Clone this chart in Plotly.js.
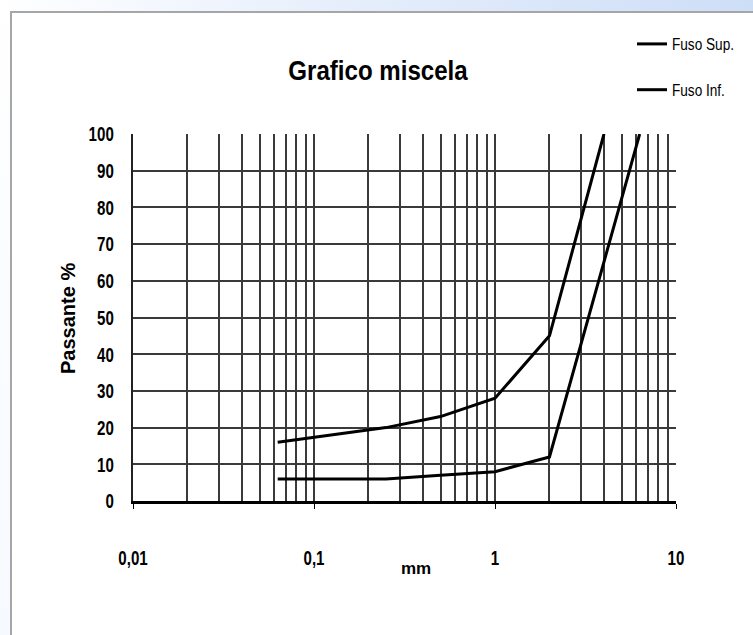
<!DOCTYPE html>
<html>
<head>
<meta charset="utf-8">
<script src="https://cdn.plot.ly/plotly-3.0.1.min.js"></script>
<style>
  html, body { margin:0; padding:0; width:753px; height:635px; overflow:hidden; }
  body { background: linear-gradient(100deg, #ffffff 0%, #e6eefc 40%, #c6daf6 100%); position:relative; }
  #frame { position:absolute; left:10px; top:11px; width:760px; height:640px; background:#ffffff;
           border-left:2px solid #a6a6a6; border-top:2px solid #a6a6a6; box-sizing:border-box; }
  #chart { position:absolute; left:0; top:0; width:753px; height:635px; }
</style>
</head>
<body>
<div id="frame"></div>
<div id="chart"></div>
<script>
// Data
const sieveSup = [0.063, 0.125, 0.25, 0.5, 1, 2, 4];
const passSup  = [16, 18, 20, 23, 28, 45, 100];
const sieveInf = [0.063, 0.125, 0.25, 0.5, 1, 2, 4, 6.3];
const passInf  = [6, 6, 6, 7, 8, 12, 65, 100];
const xTickVals = [0.01, 0.1, 1, 10];
const xTickText = ["0,01", "0,1", "1", "10"];

const minorVals = [];
[0.01, 0.1, 1].forEach(d => { for (let k = 2; k <= 9; k++) minorVals.push(+(d * k).toPrecision(3)); });

const sans = "Liberation Sans, Arial, sans-serif";
const gridC = "#3a3a3a";

const traces = [
  { x: sieveSup, y: passSup, name: "Fuso Sup.", type: "scatter", mode: "lines",
    line: { color: "#000000", width: 3 }, legendgroup: "a" },
  { x: sieveInf, y: passInf, name: "Fuso Inf.", type: "scatter", mode: "lines",
    line: { color: "#000000", width: 3 }, legendgroup: "b" }
];

const layout = {
  width: 753, height: 635,
  paper_bgcolor: "rgba(0,0,0,0)",
  plot_bgcolor: "#ffffff",
  margin: { l: 133, r: 77, t: 134, b: 134, autoexpand: false },
  title: { text: "<b>Grafico miscela</b>", font: { family: sans, size: 28, color: "#000" },
           x: 378 / 753, xanchor: "center", xref: "container", y: 1 - 70 / 635, yanchor: "middle", yref: "container" },
  showlegend: true,
  legend: { xref: "container", yref: "container", x: 632 / 753, y: 1 - 27 / 635, xanchor: "left", yanchor: "top",
            traceorder: "grouped", tracegroupgap: 22, font: { family: sans, size: 16, color: "#000" },
            bgcolor: "rgba(0,0,0,0)", itemwidth: 30 },
  xaxis: {
    type: "log", range: [-2, 1],
    tickvals: xTickVals, ticktext: xTickText,
    tickfont: { family: sans, size: 21, color: "#000", weight: "bold" },
    ticks: "outside", ticklen: 5, tickcolor: "#000", tickwidth: 1,
    ticklabelstandoff: 31,
    showgrid: true, gridcolor: gridC, gridwidth: 2,
    minor: { tickvals: minorVals, showgrid: true, gridcolor: gridC, gridwidth: 2, ticks: "" },
    showline: true, linecolor: "#000", linewidth: 3, mirror: false,
    zeroline: false, fixedrange: true
  },
  yaxis: {
    range: [0, 100], dtick: 10, tick0: 0,
    tickfont: { family: sans, size: 21, color: "#000", weight: "bold" },
    ticks: "", ticklabelstandoff: 13,
    showgrid: true, gridcolor: gridC, gridwidth: 2,
    showline: true, linecolor: "#222", linewidth: 2,
    zeroline: false, fixedrange: true
  },
  annotations: [
    { text: "<b>mm</b>", xref: "paper", yref: "paper", x: (416 - 133) / 543, y: -(568 - 501) / 367,
      xanchor: "center", yanchor: "middle", showarrow: false,
      font: { family: sans, size: 17, color: "#000" } },
    { text: "<b>Passante %</b>", xref: "paper", yref: "paper", x: -(133 - 68) / 543, y: (501 - 319) / 367,
      xanchor: "center", yanchor: "middle", showarrow: false, textangle: -90,
      font: { family: sans, size: 20, color: "#000" } }
  ]
};

function condense(sel, f) {
  document.querySelectorAll("#chart " + sel).forEach(el => {
    const w = el.getComputedTextLength();
    if (w > 0) {
      el.setAttribute("lengthAdjust", "spacingAndGlyphs");
      el.setAttribute("textLength", (w * f).toFixed(1));
    }
  });
}

Plotly.newPlot("chart", traces, layout, { displayModeBar: false, staticPlot: true }).then(() => {
  condense(".gtitle", 0.86);
  condense(".xtick text", 0.72);
  condense(".ytick text", 0.72);
  condense(".legendtext", 0.85);
});
</script>
</body>
</html>
